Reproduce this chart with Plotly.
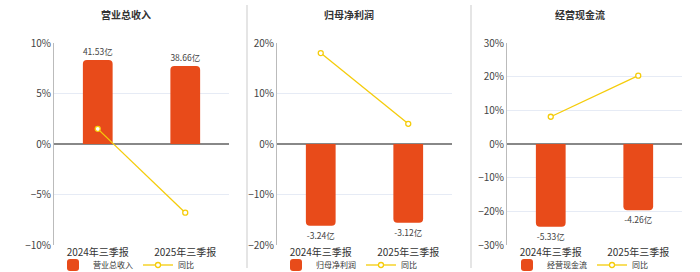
import plotly.graph_objects as go

categories = ["2024年三季报", "2025年三季报"]
titles = ["营业总收入", "归母净利润", "经营现金流"]

bar_values = [[41.53, 38.66], [-3.24, -3.12], [-5.33, -4.26]]
yoy_values = [[1.5, -6.8], [18.0, 4.0], [8.1, 20.3]]

y_ranges = [[-10, 10], [-20, 20], [-30, 30]]
y_dticks = [5, 10, 10]
bar_ranges = [[-50, 50], [-4.0, 4.0], [-6.5, 6.5]]

W, H = 700, 272
plot_x = [(54, 229), (277, 452), (507, 682)]
centers = [126, 349, 580]
y_top, y_bot = 43, 245
seps = [247, 471]

BAR = "#E84B1A"
LINE = "#F5CC0A"
FONT = "Noto Sans CJK SC, Noto Sans, sans-serif"

fig = go.Figure()
layout = dict(
    width=W, height=H, margin=dict(l=0, r=0, t=0, b=0, autoexpand=False),
    paper_bgcolor="white", plot_bgcolor="white",
    font=dict(family=FONT, color="#333", size=10),
)

dom_y = [(H - y_bot) / H, (H - y_top) / H]
for i in range(3):
    n = i + 1
    sfx = "" if n == 1 else str(n)
    xa = f"x{sfx}"
    ya = f"y{sfx}"
    yb = f"y{n+3}"
    yl = f"y{n+6}"
    leg = f"legend{sfx}"
    # placeholder trace to anchor the percent axis
    fig.add_trace(go.Scatter(x=categories, y=[None, None], xaxis=xa, yaxis=ya,
                             showlegend=False, hoverinfo="skip"))
    fig.add_trace(go.Bar(
        x=categories, y=bar_values[i], xaxis=xa, yaxis=yb,
        name=titles[i], marker=dict(color=BAR, cornerradius=4, line=dict(width=0)),
        text=[f"{v:.2f}亿" for v in bar_values[i]], textposition="outside",
        textfont=dict(size=8.5, color="#444"), cliponaxis=False,
        legend=leg, width=0.34,
    ))
    fig.add_trace(go.Scatter(
        x=categories, y=yoy_values[i], xaxis=xa, yaxis=yl,
        name="同比", mode="lines+markers",
        line=dict(color=LINE, width=1.3),
        marker=dict(symbol="circle", size=5, color="white", line=dict(color=LINE, width=1.3)),
        legend=leg, cliponaxis=False,
    ))
    x0, x1 = plot_x[i]
    layout[f"xaxis{sfx}"] = dict(
        domain=[x0 / W, x1 / W], anchor=ya, type="category",
        showgrid=False, showline=False, zeroline=False, ticks="",
        tickfont=dict(size=10, color="#333"), fixedrange=True,
        categoryorder="array", categoryarray=categories,
    )
    layout[f"yaxis{sfx}"] = dict(
        domain=dom_y, anchor=xa,
        range=y_ranges[i], dtick=y_dticks[i], ticksuffix="%",
        showgrid=True, gridcolor="#E6EBF5", gridwidth=1,
        zeroline=True, zerolinecolor="#888", zerolinewidth=1.5,
        showline=True, linecolor="#BBBBBB", linewidth=1,
        tickfont=dict(size=10, color="#444"), ticks="",
    )
    layout[f"yaxis{n+3}"] = dict(
        domain=dom_y, anchor=xa, overlaying=ya, range=bar_ranges[i], visible=False,
    )
    layout[f"yaxis{n+6}"] = dict(
        domain=dom_y, anchor=xa, overlaying=ya, range=y_ranges[i], visible=False,
    )
    layout[leg] = dict(
        orientation="h", x=centers[i] / W, xanchor="center",
        y=(H - 265) / H, yanchor="middle", font=dict(size=8, color="#333"),
        bgcolor="rgba(0,0,0,0)", itemwidth=30, tracegroupgap=0,
    )

annotations = []
for i in range(3):
    annotations.append(dict(
        text=f"<b>{titles[i]}</b>", x=centers[i] / W, y=(H - 14) / H,
        xref="paper", yref="paper", showarrow=False,
        font=dict(size=10, color="#333"), xanchor="center", yanchor="middle",
    ))
layout["annotations"] = annotations

shapes = []
for s in seps:
    shapes.append(dict(type="line", xref="paper", yref="paper",
                       x0=s / W, x1=s / W, y0=(H - 268) / H, y1=(H - 5) / H,
                       line=dict(color="#DDDDDD", width=1.5)))
layout["shapes"] = shapes

fig.update_layout(**layout)
fig.write_html("out.html")
